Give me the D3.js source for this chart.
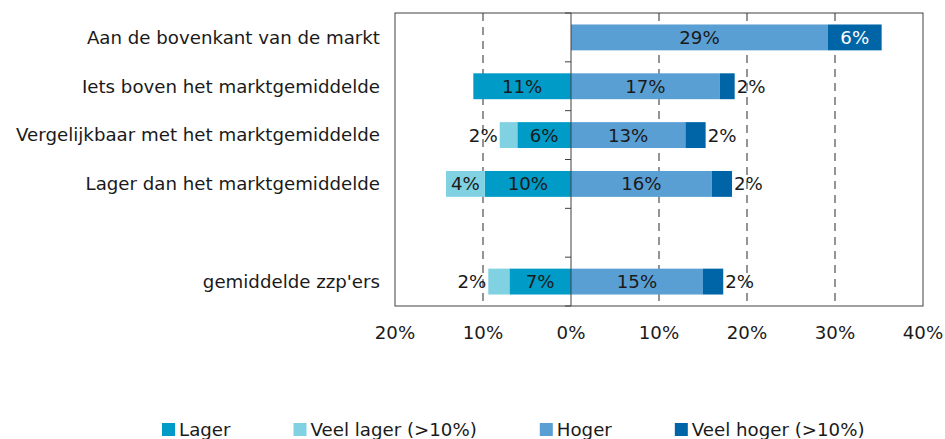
<!DOCTYPE html>
<html>
<head>
<meta charset="utf-8">
<script src="https://cdn.jsdelivr.net/npm/d3@7"></script>
<style>
  body { margin: 0; background: #fff; }
  text { font-family: "DejaVu Sans", Verdana, sans-serif; fill: #1a1a1a; }
</style>
</head>
<body>
<svg id="chart"></svg>
<script>
// data (percentages), "" is the empty row between groups
const categories = ["Aan de bovenkant van de markt", "Iets boven het marktgemiddelde",
    "Vergelijkbaar met het marktgemiddelde", "Lager dan het marktgemiddelde", "", "gemiddelde zzp'ers"];
const lager = [0, 11.1, 6.1, 9.8, 0, 7.0];
const veelLager = [0, 0, 2.0, 4.4, 0, 2.4];
const hoger = [29.2, 16.9, 13.0, 16.0, 0, 15.0];
const veelHoger = [6.1, 1.7, 2.3, 2.3, 0, 2.3];
const xTicks = [-20, -10, 0, 10, 20, 30, 40];
const seriesNames = ["Lager", "Veel lager (>10%)", "Hoger", "Veel hoger (>10%)"];
const seriesColors = ["#009bc7", "#80d1e1", "#5a9fd4", "#0065a6"];

const w = 945, h = 439;
const pLeft = 395, pRight = 923, pTop = 13, pBottom = 306;
const fs = '18.2px';

let svg = d3.select('#chart')
    .attr('width', w)
    .attr('height', h);

let xScale = d3.scaleLinear()
    .domain([-20, 40])
    .range([pLeft, pRight]);

let yScale = d3.scaleBand()
    .domain(categories)
    .range([pTop, pBottom])
    .paddingInner(0.47)
    .paddingOuter(0.235);

let step = yScale.step();

// gridlines
svg.append('g')
    .selectAll('line')
    .data(xTicks.filter(d => d !== 0 && d !== -20 && d !== 40))
    .enter()
    .append('line')
    .attr('x1', d => xScale(d))
    .attr('x2', d => xScale(d))
    .attr('y1', pTop)
    .attr('y2', pBottom)
    .attr('stroke', '#2a2a2a')
    .attr('stroke-width', 1)
    .attr('stroke-dasharray', '8,6');

// build segments
let rows = categories.map((c, i) => ({cat: c, i: i})).filter(d => d.cat !== "");
let segs = [];
rows.forEach(r => {
    let i = r.i;
    // left side: lager next to zero, veel lager outside it
    segs.push({cat: r.cat, s: 0, x0: -lager[i], x1: 0, v: lager[i], side: 'left'});
    segs.push({cat: r.cat, s: 1, x0: -lager[i] - veelLager[i], x1: -lager[i], v: veelLager[i], side: 'left'});
    segs.push({cat: r.cat, s: 2, x0: 0, x1: hoger[i], v: hoger[i], side: 'right'});
    segs.push({cat: r.cat, s: 3, x0: hoger[i], x1: hoger[i] + veelHoger[i], v: veelHoger[i], side: 'right'});
});
segs = segs.filter(d => d.v > 0);

svg.append('g')
    .selectAll('rect')
    .data(segs)
    .enter()
    .append('rect')
    .attr('x', d => xScale(d.x0))
    .attr('y', d => yScale(d.cat))
    .attr('width', d => xScale(d.x1) - xScale(d.x0))
    .attr('height', yScale.bandwidth())
    .attr('fill', d => seriesColors[d.s]);

// value labels
let fmt = v => d3.format('.0f')(v) + '%';
svg.append('g')
    .selectAll('text')
    .data(segs)
    .enter()
    .append('text')
    .attr('x', d => {
        if (d.v < 3) return d.side === 'left' ? xScale(d.x0) - 2 : xScale(d.x1) + 2;
        return (xScale(d.x0) + xScale(d.x1)) / 2;
    })
    .attr('y', d => yScale(d.cat) + yScale.bandwidth() / 2 + 6.5)
    .style('text-anchor', d => d.v < 3 ? (d.side === 'left' ? 'end' : 'start') : 'middle')
    .style('font-size', fs)
    .style('fill', d => (d.s === 3 && d.v >= 3) ? '#fff' : '#1a1a1a')
    .text(d => fmt(d.v));

// zero axis with ticks at band edges
svg.append('line')
    .attr('x1', xScale(0)).attr('x2', xScale(0))
    .attr('y1', pTop).attr('y2', pBottom)
    .attr('stroke', '#404040');

svg.append('g')
    .selectAll('line')
    .data(d3.range(categories.length + 1))
    .enter()
    .append('line')
    .attr('x1', xScale(0) - 6)
    .attr('x2', xScale(0))
    .attr('y1', i => pTop + i * step)
    .attr('y2', i => pTop + i * step)
    .attr('stroke', '#404040');

// plot frame
svg.append('rect')
    .attr('x', pLeft)
    .attr('y', pTop)
    .attr('width', pRight - pLeft)
    .attr('height', pBottom - pTop)
    .attr('fill', 'none')
    .attr('stroke', '#404040');

// category labels
let yAxis = d3.axisLeft(yScale).tickSize(0).tickPadding(15);
svg.append('g')
    .attr('transform', 'translate(' + pLeft + ',0)')
    .call(yAxis)
    .call(g => g.select('.domain').remove())
    .selectAll('text')
    .attr('dy', '0.35em')
    .style('font-size', fs)
    .style('font-family', '"DejaVu Sans", Verdana, sans-serif')
    .attr('fill', '#1a1a1a');

// x tick labels
svg.append('g')
    .selectAll('text')
    .data(xTicks)
    .enter()
    .append('text')
    .attr('x', d => xScale(d))
    .attr('y', 339)
    .style('text-anchor', 'middle')
    .style('font-size', fs)
    .text(d => Math.abs(d) + '%');

// legend
let legend = svg.append('g');
let lx = 162;
seriesNames.forEach((name, i) => {
    legend.append('rect')
        .attr('x', lx)
        .attr('y', 423)
        .attr('width', 13)
        .attr('height', 13)
        .attr('fill', seriesColors[i]);
    let t = legend.append('text')
        .attr('x', lx + 17)
        .attr('y', 436)
        .style('font-size', fs)
        .text(name);
    lx += 17 + t.node().getComputedTextLength() + 63;
});
</script>
</body>
</html>
